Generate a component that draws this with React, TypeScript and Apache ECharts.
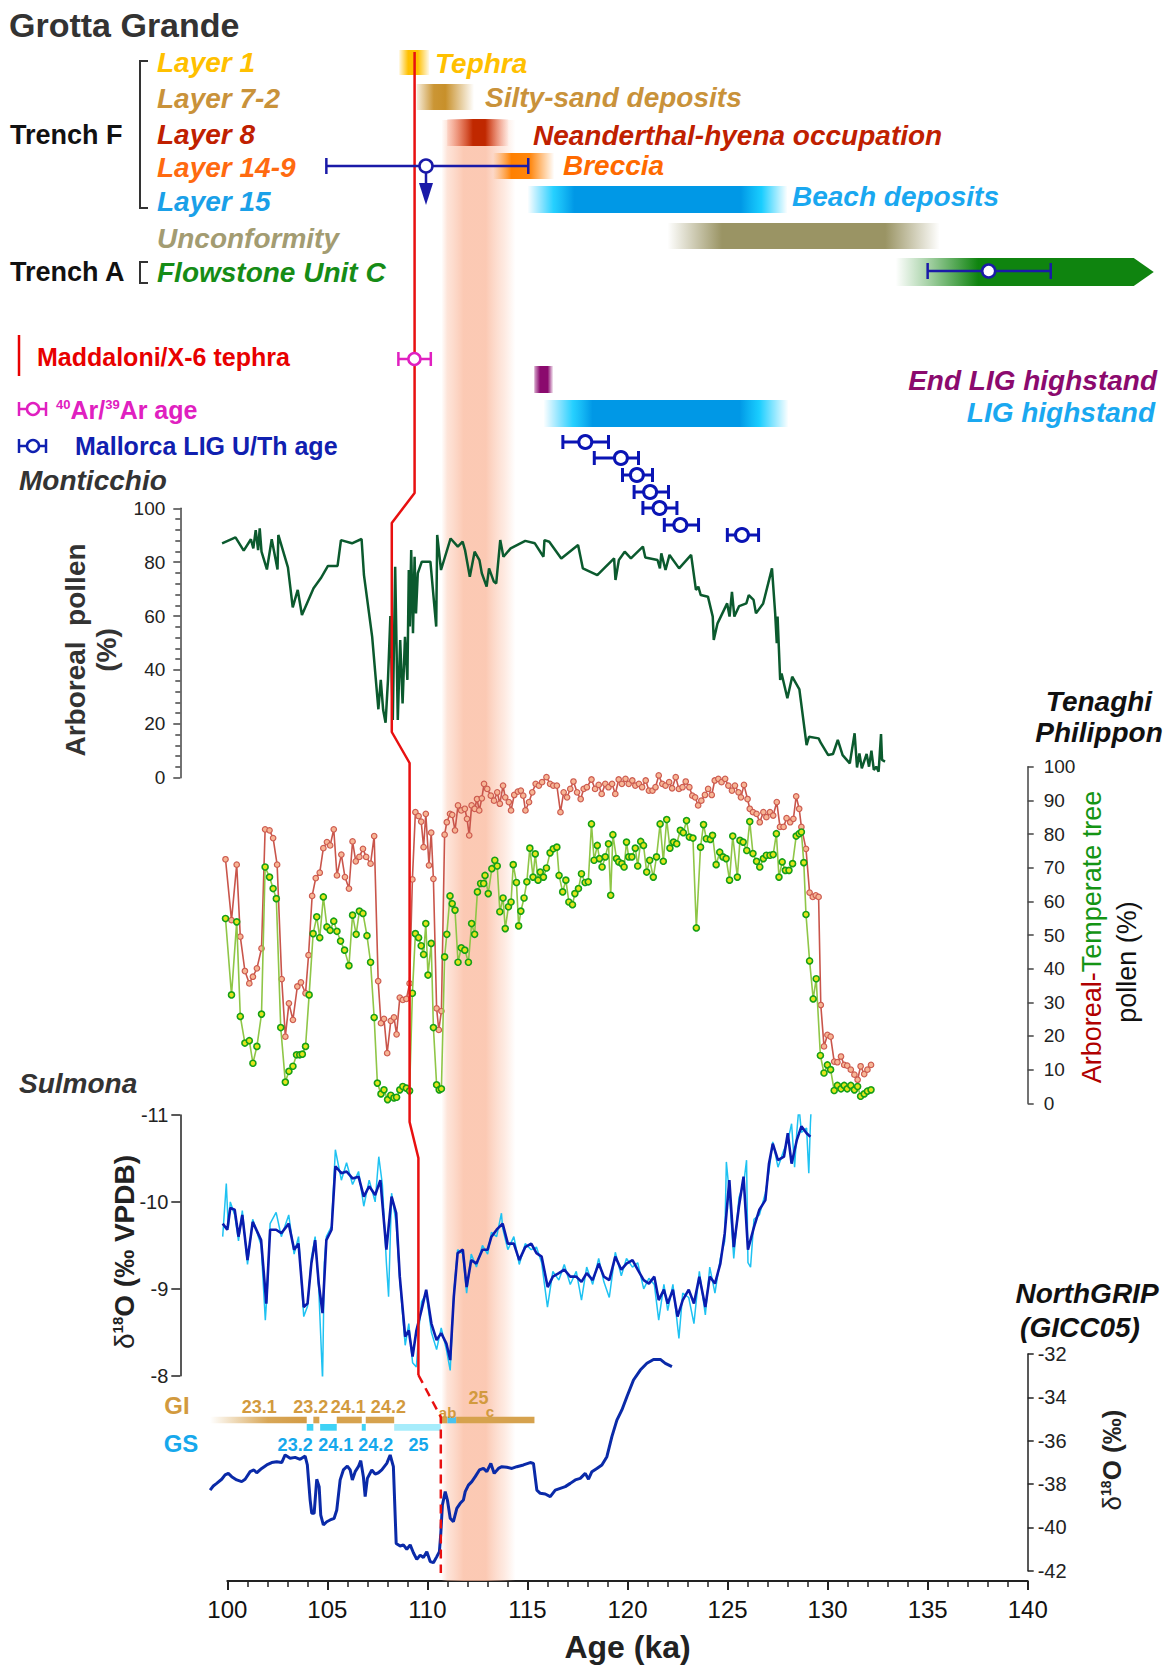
import React, { useEffect, useRef } from "react";
import * as echarts from "echarts";

// ---------------- DATA ----------------
const AGE_TICKS = [100, 105, 110, 115, 120, 125, 130, 135, 140];
const MONTICCHIO_TICKS = [0, 20, 40, 60, 80, 100];
const TENAGHI_TICKS = [0, 10, 20, 30, 40, 50, 60, 70, 80, 90, 100];
const SULMONA_TICKS = [-11, -10, -9, -8];
const NGRIP_TICKS = [-42, -40, -38, -36, -34, -32];

// Monticchio arboreal pollen (%) [age ka, value]
const MONTICCHIO_AP = [
  [99.74, 87.0], [100.41, 89.2], [100.82, 84.3], [101.18, 88.5], [101.3, 85.1], [101.42, 91.9], [101.54, 84.5], [101.62, 92.6],
  [101.71, 83.9], [101.98, 77.3], [102.22, 88.5], [102.51, 77.3], [102.55, 90.1], [103.03, 78.1], [103.27, 63.2], [103.52, 69.7],
  [103.73, 60.4], [104.31, 70.3], [104.67, 74.0], [105.03, 78.6], [105.51, 78.6], [105.68, 88.2], [106.23, 87.0], [106.71, 88.6],
  [106.83, 75.2], [107.24, 52.3], [107.55, 25.4], [107.67, 36.3], [107.79, 25.1], [107.91, 20.4], [108.03, 36.3], [108.15, 60.0],
  [108.27, 21.4], [108.39, 78.3], [108.52, 21.4], [108.64, 51.1], [108.76, 27.6], [108.88, 52.3], [109.0, 36.3], [109.07, 77.1],
  [109.12, 56.1], [109.19, 84.5], [109.28, 53.6], [109.36, 82.0], [109.43, 61.0], [109.52, 75.9], [109.72, 80.2], [110.15, 80.2],
  [110.44, 56.1], [110.49, 90.1], [110.68, 77.1], [111.16, 88.8], [111.52, 85.8], [111.76, 87.6], [111.88, 84.5], [112.12, 74.6],
  [112.36, 83.9], [112.6, 80.8], [112.72, 75.9], [112.96, 70.9], [113.08, 77.7], [113.32, 72.8], [113.44, 72.1], [113.64, 88.2],
  [113.8, 82.0], [114.16, 85.1], [114.89, 87.9], [115.37, 87.0], [115.8, 82.0], [115.85, 88.2], [116.09, 87.6], [116.69, 81.4],
  [117.53, 86.4], [117.77, 77.7], [118.49, 75.2], [119.33, 81.4], [119.4, 73.4], [119.57, 80.8], [119.86, 83.9], [120.17, 81.4],
  [120.77, 85.8], [120.89, 81.7], [121.5, 80.8], [121.62, 77.7], [121.69, 83.3], [121.9, 77.1], [122.1, 82.7], [122.58, 77.7],
  [123.18, 82.7], [123.42, 69.7], [123.54, 70.9], [123.66, 67.8], [124.02, 67.2], [124.26, 59.8], [124.31, 51.1], [124.5, 57.3],
  [124.74, 61.0], [124.98, 64.7], [125.1, 59.8], [125.22, 69.0], [125.34, 59.8], [125.58, 63.7], [125.94, 64.7], [126.06, 67.8],
  [126.3, 66.0], [126.42, 61.0], [126.78, 64.7], [127.22, 77.7], [127.38, 61.0], [127.46, 49.9], [127.5, 59.8], [127.63, 36.3],
  [127.7, 38.7], [127.99, 29.5], [128.23, 37.5], [128.59, 32.8], [128.95, 12.1], [129.07, 15.2], [129.55, 14.6], [129.67, 12.8],
  [130.03, 8.4], [130.27, 8.8], [130.51, 14.0], [130.75, 8.4], [131.11, 5.3], [131.35, 16.5], [131.47, 3.8], [131.59, 9.0],
  [131.71, 3.5], [131.95, 8.8], [132.07, 4.1], [132.19, 10.0], [132.31, 2.9], [132.43, 4.1], [132.55, 2.2], [132.67, 16.2],
  [132.72, 6.6], [132.87, 6.0],
];

// Tenaghi Philippon arboreal pollen (%)
const TENAGHI_AP = [
  [99.91, 72.5], [100.21, 54.4], [100.47, 70.9], [100.65, 49.5], [100.88, 39.3], [101.1, 35.6], [101.28, 37.6], [101.48, 40.1],
  [101.71, 46.0], [101.89, 81.4], [102.11, 81.1], [102.29, 78.8], [102.49, 70.9], [102.72, 36.9], [102.9, 19.8], [103.08, 29.7],
  [103.28, 24.8], [103.5, 34.7], [103.68, 35.9], [103.91, 32.7], [104.06, 44.0], [104.24, 61.6], [104.42, 66.9], [104.62, 68.5],
  [104.8, 75.8], [104.98, 77.6], [105.14, 76.6], [105.32, 81.4], [105.48, 67.7], [105.7, 73.9], [105.88, 67.2], [106.08, 63.8],
  [106.26, 77.8], [106.42, 71.9], [106.6, 73.2], [106.78, 75.6], [106.94, 73.2], [107.16, 71.2], [107.34, 79.4], [107.54, 36.3],
  [107.68, 23.8], [107.83, 25.1], [107.99, 14.9], [108.17, 24.5], [108.33, 25.5], [108.46, 20.5], [108.62, 31.4], [108.77, 30.7],
  [108.95, 31.0], [109.11, 35.6], [109.25, 66.5], [109.4, 86.5], [109.56, 85.3], [109.69, 83.7], [109.81, 76.1], [109.92, 86.0],
  [110.08, 70.7], [110.19, 80.4], [110.3, 66.7], [110.46, 28.2], [110.57, 21.8], [110.7, 27.4], [110.86, 79.8], [110.97, 83.5],
  [111.13, 86.0], [111.24, 85.7], [111.38, 81.1], [111.53, 88.5], [111.69, 87.0], [111.87, 87.5], [111.98, 84.5], [112.09, 79.6],
  [112.21, 88.5], [112.36, 87.5], [112.48, 90.4], [112.59, 87.0], [112.72, 90.6], [112.83, 94.9], [112.99, 93.4], [113.17, 91.4],
  [113.33, 89.9], [113.49, 92.4], [113.62, 89.0], [113.78, 94.4], [113.89, 90.9], [114.07, 89.5], [114.18, 87.0], [114.34, 91.6],
  [114.52, 92.6], [114.67, 92.9], [114.79, 91.4], [114.9, 87.0], [115.08, 89.5], [115.24, 92.4], [115.41, 94.9], [115.57, 94.4],
  [115.73, 95.4], [115.95, 96.9], [116.13, 94.9], [116.29, 94.4], [116.47, 94.4], [116.65, 86.5], [116.81, 92.4], [116.98, 90.9],
  [117.14, 93.4], [117.3, 95.6], [117.48, 92.4], [117.66, 90.4], [117.81, 93.4], [117.97, 93.9], [118.2, 96.2], [118.38, 93.4],
  [118.56, 94.6], [118.71, 91.9], [118.89, 94.9], [119.05, 93.9], [119.23, 94.9], [119.39, 91.9], [119.56, 96.2], [119.72, 94.9],
  [119.9, 96.4], [120.06, 94.9], [120.24, 95.9], [120.39, 94.4], [120.57, 94.9], [120.73, 93.9], [120.91, 95.9], [121.07, 92.9],
  [121.25, 92.9], [121.4, 93.9], [121.56, 97.4], [121.74, 94.9], [121.9, 94.4], [122.08, 95.4], [122.23, 93.6], [122.41, 96.9],
  [122.57, 93.4], [122.75, 93.9], [122.91, 95.6], [123.09, 93.9], [123.24, 91.4], [123.38, 90.9], [123.53, 88.5], [123.69, 89.9],
  [123.87, 91.6], [124.03, 93.4], [124.21, 91.6], [124.36, 95.9], [124.54, 96.4], [124.7, 95.4], [124.88, 96.4], [125.04, 94.4],
  [125.22, 92.9], [125.37, 94.4], [125.55, 92.4], [125.67, 90.9], [125.82, 94.6], [126.0, 90.4], [126.11, 87.5], [126.27, 86.5],
  [126.45, 86.0], [126.61, 83.5], [126.79, 86.5], [126.94, 85.0], [127.12, 86.5], [127.28, 85.5], [127.46, 89.5], [127.62, 82.1],
  [127.8, 82.1], [127.95, 84.7], [128.13, 83.5], [128.29, 84.5], [128.43, 91.2], [128.58, 87.5], [128.69, 82.1], [128.92, 75.6],
  [129.1, 62.6], [129.26, 61.3], [129.41, 61.8], [129.55, 61.3], [129.66, 29.2], [129.82, 16.9], [129.99, 20.3], [130.15, 19.8],
  [130.33, 12.4], [130.49, 12.2], [130.67, 13.9], [130.83, 11.4], [130.98, 11.2], [131.16, 10.0], [131.34, 8.5], [131.5, 7.0],
  [131.65, 11.0], [131.83, 8.7], [131.99, 10.0], [132.17, 11.4],
];

// Tenaghi Philippon temperate tree pollen (%)
const TENAGHI_TT = [
  [99.91, 54.9], [100.21, 32.2], [100.47, 53.9], [100.65, 25.8], [100.88, 17.9], [101.1, 18.6], [101.28, 11.9], [101.48, 16.9],
  [101.71, 26.5], [101.89, 70.2], [102.11, 67.2], [102.29, 63.8], [102.45, 60.8], [102.67, 22.5], [102.9, 6.3], [103.08, 9.5],
  [103.28, 11.0], [103.46, 14.4], [103.62, 14.4], [103.75, 14.6], [103.91, 16.9], [104.09, 32.2], [104.29, 50.4], [104.47, 55.4],
  [104.62, 49.2], [104.8, 61.3], [104.98, 52.4], [105.14, 51.4], [105.32, 54.1], [105.48, 51.1], [105.66, 48.2], [105.86, 45.5],
  [106.08, 40.9], [106.26, 55.9], [106.44, 50.2], [106.6, 57.1], [106.78, 56.4], [106.98, 49.8], [107.16, 41.9], [107.34, 25.5],
  [107.5, 6.0], [107.68, 2.8], [107.83, 4.0], [108.01, 1.1], [108.17, 2.4], [108.33, 1.6], [108.46, 1.8], [108.62, 4.0],
  [108.77, 5.0], [108.95, 4.5], [109.11, 3.7], [109.25, 32.7], [109.4, 50.4], [109.56, 49.2], [109.69, 46.8], [109.81, 44.2],
  [109.92, 53.4], [110.03, 38.1], [110.19, 47.5], [110.3, 22.5], [110.46, 5.5], [110.59, 4.0], [110.7, 4.3], [110.86, 43.5],
  [110.97, 50.2], [111.13, 61.6], [111.24, 59.3], [111.38, 57.4], [111.53, 41.9], [111.69, 46.2], [111.87, 45.5], [112.05, 41.9],
  [112.21, 53.4], [112.36, 50.2], [112.5, 62.8], [112.66, 65.3], [112.81, 65.3], [112.88, 67.7], [113.04, 62.3], [113.22, 69.7],
  [113.37, 72.2], [113.49, 70.5], [113.62, 56.9], [113.78, 61.0], [113.89, 51.9], [114.05, 58.4], [114.18, 59.8], [114.29, 70.9],
  [114.45, 65.6], [114.56, 52.7], [114.67, 57.1], [114.83, 61.0], [114.97, 65.8], [115.12, 75.8], [115.28, 67.2], [115.39, 74.1],
  [115.53, 66.3], [115.64, 68.7], [115.8, 67.2], [115.95, 69.9], [116.13, 74.4], [116.29, 75.6], [116.47, 76.1], [116.58, 67.7],
  [116.76, 62.8], [116.92, 66.3], [117.07, 59.8], [117.25, 59.0], [117.37, 62.3], [117.55, 63.8], [117.7, 68.2], [117.88, 65.6],
  [118.04, 65.8], [118.2, 83.0], [118.33, 72.2], [118.49, 76.6], [118.6, 72.7], [118.73, 70.2], [118.89, 73.2], [119.05, 77.1],
  [119.16, 61.8], [119.27, 79.8], [119.45, 72.7], [119.56, 71.7], [119.72, 71.2], [119.83, 70.2], [119.95, 77.6], [120.06, 73.2],
  [120.22, 73.2], [120.39, 75.8], [120.51, 70.5], [120.66, 77.8], [120.8, 76.6], [120.96, 68.7], [121.11, 72.2], [121.29, 67.2],
  [121.45, 73.2], [121.63, 83.0], [121.79, 71.9], [121.96, 84.3], [122.12, 75.8], [122.3, 77.6], [122.46, 77.1], [122.64, 81.1],
  [122.79, 80.4], [122.95, 84.0], [123.09, 79.1], [123.27, 78.8], [123.44, 52.1], [123.65, 76.1], [123.8, 82.8], [123.94, 78.6],
  [124.14, 78.4], [124.25, 79.6], [124.43, 70.9], [124.61, 74.6], [124.77, 73.2], [124.93, 72.7], [125.1, 66.3], [125.26, 79.4],
  [125.49, 67.2], [125.62, 78.1], [125.78, 77.6], [125.96, 75.1], [126.11, 83.7], [126.27, 74.2], [126.45, 71.9], [126.61, 70.2],
  [126.79, 72.7], [126.94, 73.7], [127.12, 73.7], [127.28, 73.9], [127.44, 80.1], [127.57, 67.2], [127.73, 71.7], [127.89, 69.2],
  [128.07, 69.2], [128.25, 71.2], [128.43, 79.4], [128.58, 80.1], [128.69, 80.6], [128.81, 71.5], [128.92, 56.1], [129.1, 42.3],
  [129.28, 31.0], [129.43, 37.0], [129.64, 14.2], [129.82, 9.0], [129.99, 11.4], [130.15, 10.0], [130.33, 3.8], [130.49, 5.3],
  [130.67, 4.3], [130.83, 5.3], [130.98, 4.3], [131.16, 5.3], [131.34, 4.0], [131.5, 5.0], [131.65, 2.1], [131.83, 2.8],
  [131.99, 3.6], [132.17, 4.0],
];

// Sulmona d18O (permil VPDB), smoothed record
const SULMONA_SMOOTH = [
  [99.77, -9.75], [100.0, -9.68], [100.15, -9.93], [100.37, -9.91], [100.56, -9.6], [100.75, -9.85], [101.01, -9.33], [101.27, -9.77],
  [101.69, -9.56], [101.95, -8.83], [102.14, -9.68], [102.44, -9.68], [102.7, -9.64], [103.07, -9.75], [103.34, -9.45], [103.56, -9.52],
  [103.82, -8.79], [104.01, -8.83], [104.2, -9.29], [104.39, -9.56], [104.57, -9.06], [104.76, -8.72], [104.95, -9.56], [105.21, -9.68],
  [105.4, -10.41], [105.7, -10.33], [105.96, -10.35], [106.26, -10.27], [106.56, -10.29], [106.82, -10.06], [107.09, -10.18], [107.39, -10.08],
  [107.65, -10.25], [107.95, -9.45], [108.21, -10.06], [108.44, -9.87], [108.62, -9.14], [108.89, -8.45], [109.07, -8.52], [109.26, -8.22],
  [109.45, -8.52], [109.71, -8.76], [109.94, -8.99], [110.2, -8.6], [110.46, -8.41], [110.69, -8.49], [110.95, -8.37], [111.14, -8.18],
  [111.32, -8.91], [111.51, -9.41], [111.77, -9.45], [111.96, -9.02], [112.19, -9.33], [112.45, -9.29], [112.75, -9.45], [113.01, -9.45],
  [113.2, -9.6], [113.46, -9.68], [113.76, -9.75], [114.02, -9.52], [114.32, -9.52], [114.59, -9.33], [114.89, -9.48], [115.19, -9.52],
  [115.45, -9.41], [115.71, -9.37], [116.01, -9.02], [116.27, -9.14], [116.57, -9.18], [116.84, -9.22], [117.14, -9.14], [117.44, -9.14],
  [117.7, -9.08], [117.96, -9.18], [118.26, -9.1], [118.56, -9.29], [118.82, -9.14], [119.09, -9.1], [119.39, -9.37], [119.69, -9.22],
  [119.95, -9.29], [120.25, -9.33], [120.51, -9.22], [120.81, -9.1], [121.07, -9.06], [121.34, -9.14], [121.56, -8.87], [121.82, -8.99],
  [122.01, -8.83], [122.27, -8.99], [122.5, -8.68], [122.76, -8.87], [123.06, -8.99], [123.32, -8.83], [123.59, -9.14], [123.89, -8.79],
  [124.11, -9.14], [124.37, -9.06], [124.64, -9.29], [124.86, -9.64], [125.09, -10.25], [125.31, -9.48], [125.57, -9.95], [125.8, -10.29],
  [126.02, -9.45], [126.32, -9.71], [126.59, -9.91], [126.89, -10.02], [127.07, -10.44], [127.26, -10.67], [127.52, -10.48], [127.82, -10.52],
  [128.01, -10.79], [128.2, -10.44], [128.46, -10.71], [128.69, -10.87], [128.95, -10.79], [129.14, -10.75],
];

// Sulmona d18O raw record (light blue)
const SULMONA_RAW = [
  [99.77, -9.6], [99.95, -10.21], [100.05, -9.7], [100.15, -10.0], [100.37, -9.85], [100.56, -9.55], [100.75, -9.9], [101.01, -9.28],
  [101.27, -9.8], [101.69, -9.5], [101.9, -8.64], [102.0, -9.0], [102.14, -9.75], [102.44, -9.88], [102.7, -9.6], [103.07, -9.85],
  [103.34, -9.4], [103.56, -9.6], [103.82, -8.68], [104.01, -8.8], [104.2, -9.35], [104.39, -9.6], [104.57, -9.0], [104.76, -7.95],
  [104.85, -9.3], [104.95, -9.6], [105.21, -9.72], [105.4, -10.6], [105.7, -10.25], [105.96, -10.45], [106.26, -10.2], [106.56, -10.35],
  [106.82, -9.95], [107.09, -10.25], [107.39, -10.0], [107.57, -10.52], [107.75, -10.2], [107.95, -9.3], [108.06, -8.91], [108.21, -10.1],
  [108.44, -9.75], [108.62, -9.1], [108.89, -8.35], [109.07, -8.6], [109.26, -8.15], [109.45, -8.1], [109.6, -8.6], [109.71, -8.85],
  [109.94, -8.95], [110.2, -8.5], [110.46, -8.3], [110.69, -8.55], [110.95, -8.3], [111.14, -8.06], [111.32, -8.95], [111.51, -9.45],
  [111.77, -9.4], [111.96, -8.95], [112.19, -9.4], [112.45, -9.25], [112.75, -9.5], [113.01, -9.4], [113.2, -9.65], [113.46, -9.6],
  [113.7, -9.87], [113.76, -9.7], [114.02, -9.45], [114.32, -9.6], [114.59, -9.28], [114.89, -9.52], [115.19, -9.45], [115.45, -9.48],
  [115.71, -9.3], [116.0, -8.79], [116.27, -9.2], [116.57, -9.1], [116.84, -9.28], [117.14, -9.05], [117.44, -9.2], [117.7, -8.87],
  [117.96, -9.25], [118.26, -9.05], [118.56, -9.35], [118.82, -9.08], [119.09, -8.9], [119.39, -9.42], [119.69, -9.15], [119.95, -9.35],
  [120.25, -9.25], [120.51, -9.3], [120.81, -9.0], [121.07, -9.12], [121.34, -9.05], [121.56, -8.64], [121.82, -9.05], [122.01, -8.75],
  [122.27, -9.05], [122.57, -8.43], [122.76, -8.95], [123.06, -8.9], [123.32, -8.6], [123.59, -9.2], [123.89, -8.7], [124.11, -9.25],
  [124.37, -8.95], [124.64, -9.35], [124.86, -9.55], [124.94, -10.46], [125.09, -10.1], [125.31, -9.35], [125.57, -10.05], [125.8, -10.2],
  [125.95, -10.48], [126.02, -9.3], [126.15, -9.25], [126.32, -9.8], [126.59, -9.85], [126.89, -10.1], [127.07, -10.35], [127.26, -10.69],
  [127.52, -10.4], [127.82, -10.6], [128.01, -10.7], [128.2, -10.9], [128.35, -10.4], [128.46, -10.8], [128.57, -11.1], [128.69, -10.8],
  [128.95, -10.85], [129.06, -10.33], [129.14, -10.9], [129.21, -11.21],
];

// NorthGRIP d18O (permil), GICC05
const NGRIP_D18O = [
  [99.14, -38.28], [99.3, -38.09], [99.47, -37.97], [99.72, -37.78], [99.89, -37.58], [100.05, -37.51], [100.22, -37.66], [100.47, -37.81],
  [100.72, -37.89], [100.89, -37.78], [101.14, -37.43], [101.33, -37.35], [101.47, -37.48], [101.72, -37.28], [101.97, -37.12], [102.22, -37.01],
  [102.47, -36.97], [102.72, -37.01], [102.89, -36.66], [103.14, -36.81], [103.39, -36.77], [103.64, -36.86], [103.89, -36.71], [104.0, -37.12],
  [104.14, -38.74], [104.22, -39.35], [104.34, -39.35], [104.47, -37.78], [104.59, -38.12], [104.67, -39.43], [104.8, -39.89], [104.97, -39.74],
  [105.14, -39.66], [105.34, -39.58], [105.47, -39.2], [105.64, -37.81], [105.8, -37.35], [106.0, -37.17], [106.14, -37.35], [106.25, -37.81],
  [106.39, -37.43], [106.55, -37.2], [106.67, -36.92], [106.8, -37.66], [106.89, -38.58], [107.0, -37.74], [107.22, -37.35], [107.39, -37.54],
  [107.55, -37.48], [107.72, -37.35], [107.97, -37.05], [108.14, -36.66], [108.3, -37.2], [108.44, -40.74], [108.64, -40.86], [108.8, -40.81],
  [108.97, -41.01], [109.14, -40.81], [109.3, -41.17], [109.47, -41.48], [109.64, -41.28], [109.8, -41.39], [109.97, -41.12], [110.14, -41.58],
  [110.3, -41.63], [110.47, -41.35], [110.6, -41.12], [110.67, -40.28], [110.75, -38.97], [110.89, -38.35], [111.0, -38.74], [111.14, -39.58],
  [111.3, -39.74], [111.47, -39.12], [111.64, -38.89], [111.8, -38.74], [111.89, -38.35], [112.05, -38.05], [112.22, -37.89], [112.39, -37.66],
  [112.6, -37.35], [112.8, -37.28], [112.97, -37.43], [113.17, -37.05], [113.34, -37.51], [113.55, -37.28], [113.72, -37.2], [113.97, -37.23],
  [114.22, -37.28], [114.47, -37.2], [114.8, -37.12], [115.14, -37.01], [115.3, -37.05], [115.47, -38.28], [115.64, -38.43], [115.89, -38.46],
  [116.14, -38.58], [116.39, -38.28], [116.64, -38.2], [116.89, -38.12], [117.14, -37.97], [117.39, -37.81], [117.64, -37.74], [117.89, -37.51],
  [118.05, -37.78], [118.22, -37.43], [118.47, -37.28], [118.72, -37.12], [118.97, -36.74], [119.22, -35.81], [119.47, -35.05], [119.72, -34.58],
  [119.97, -33.97], [120.3, -33.2], [120.64, -32.74], [120.97, -32.43], [121.3, -32.25], [121.64, -32.25], [121.89, -32.43], [122.22, -32.58],
];

// Grotta Grande deposits (age ranges, ka)
const GG_UNITS = [
  { key: "tephra", start: 108.59, end: 110.09 },
  { key: "silty", start: 109.46, end: 112.33 },
  { key: "l8", start: 110.99, end: 114.05 },
  { key: "breccia", start: 113.28, end: 116.34 },
  { key: "beach", start: 115.0, end: 128.0 },
  { key: "unconf", start: 122.0, end: 135.6 },
  { key: "endLig", start: 115.34, end: 116.3 },
  { key: "lig", start: 115.8, end: 128.05 },
];
const FLOWSTONE = [133.4, 145.3, 146.3]; // start, end of body, arrow tip

// Ages with errors [age, low, high]
const AR_AGE = [109.35, 108.55, 110.17];
const GG_UTH_AGE = [109.93, 104.95, 115.04];
const FLOW_UTH_AGE = [138.05, 135.0, 141.15];
const MALLORCA_AGES = [
  [117.89, 116.77, 119.05], [119.67, 118.34, 120.55], [120.47, 119.75, 121.25], [121.13, 120.33, 122.05],
  [121.6, 120.77, 122.47], [122.64, 121.84, 123.55], [125.72, 124.99, 126.55],
];

// Greenland interstadials / stadials [start, end]
const GI_EVENTS = [
  { s: 99.14, e: 103.97, k: "fade" }, { s: 104.3, e: 104.6, k: "gi" }, { s: 105.47, e: 106.72, k: "gi" },
  { s: 106.92, e: 108.34, k: "gi" }, { s: 110.67, e: 111.0, k: "gi" }, { s: 111.0, e: 111.44, k: "gsb" },
  { s: 111.44, e: 115.35, k: "gi" },
];
const GS_EVENTS = [
  { s: 103.97, e: 104.3, k: "gs" }, { s: 104.64, e: 105.47, k: "gs" }, { s: 106.72, e: 106.92, k: "gs" },
  { s: 108.34, e: 110.67, k: "gsl" },
];
const GI_LABELS = [["23.1", 101.6], ["23.2", 104.17], ["24.1", 106.05], ["24.2", 108.05], ["25", 112.55]];
const GI_SUB_LABELS = [["a", 110.78], ["b", 111.22], ["c", 113.13]];
const GS_LABELS = [["23.2", 103.39], ["24.1", 105.42], ["24.2", 107.42], ["25", 109.55]];

// Maddaloni/X-6 tephra tie line ages
const TEPHRA_TIE_AGES = [109.36, 109.36, 108.22, 108.22, 109.11, 109.11, 109.55, 109.55];
const TEPHRA_NGRIP_AGES = [109.55, 110.67, 110.67];
const SHADED_BAND = [110.7, 114.4];

// ---------------- LAYOUT ----------------
const FONT = "Liberation Sans, Arial, Helvetica, sans-serif";
const GL = 227.3;
const GW = 800.4;
const PX_PER_KA = GW / (AGE_TICKS[AGE_TICKS.length - 1] - AGE_TICKS[0]);
const DATA_X_MIN = 98; // hidden data axes extend left so that records starting before 100 ka are drawn
const EXT = (AGE_TICKS[0] - DATA_X_MIN) * PX_PER_KA;
const Y_AXIS_GAP = 47; // distance of the left value axes from the 100 ka position
const TIE_Y = [52, 493, 523, 732, 763, 1122, 1158, 1375];
const TIE_Y_DASH = [1375, 1417, 1573];
const ROWS: any = {
  tephra: [50, 75], silty: [84, 110], l8: [119, 146], breccia: [153, 179], beach: [186, 213],
  unconf: [223, 249], flow: [258, 286], endLig: [366, 393], lig: [400, 427],
};
const ERR_Y = { ar: 359, gg: 166, flow: 271, mallorca: [442, 458, 475, 492, 508, 525, 535] };
const GI_ROW = [1416.7, 1423.3];
const GS_ROW = [1424, 1430.7];

const BAR_STOPS: any = {
  tephra: [[0, "rgba(255,192,0,0.12)"], [0.3, "rgba(255,192,0,1)"], [0.62, "rgba(255,192,0,1)"], [1, "rgba(255,192,0,0.08)"]],
  silty: [[0, "rgba(200,144,42,0.15)"], [0.3, "rgba(200,144,42,0.95)"], [0.5, "rgba(200,144,42,1)"], [1, "rgba(200,144,42,0)"]],
  l8: [[0, "rgba(240,110,80,0.15)"], [0.42, "rgba(192,40,0,1)"], [0.62, "rgba(192,40,0,1)"], [1, "rgba(240,110,80,0.05)"]],
  breccia: [[0, "rgba(255,128,0,0)"], [0.3, "rgba(255,128,0,1)"], [0.6, "rgba(255,128,0,0.95)"], [1, "rgba(255,128,0,0)"]],
  beach: [[0, "rgba(0,190,255,0)"], [0.1, "rgba(0,200,255,0.85)"], [0.18, "#0098e6"], [0.82, "#0098e6"], [0.9, "rgba(0,200,255,0.9)"], [1, "rgba(0,200,255,0)"]],
  unconf: [[0, "rgba(154,148,100,0)"], [0.2, "rgba(154,148,100,1)"], [0.8, "rgba(154,148,100,1)"], [1, "rgba(154,148,100,0)"]],
  endLig: [[0, "rgba(139,10,110,0.35)"], [0.3, "#8b0a6e"], [0.7, "#8b0a6e"], [1, "rgba(139,10,110,0)"]],
  lig: [[0, "rgba(0,190,255,0)"], [0.12, "rgba(0,200,255,0.85)"], [0.2, "#0098e6"], [0.8, "#0098e6"], [0.88, "rgba(0,200,255,0.9)"], [1, "rgba(0,200,255,0)"]],
};
const EVENT_COLORS: any = { gi: "#d6a24e", gs: "#3fd2f5", gsl: "#a6ecfb", gsb: "#49c3ef" };

const grad = (stops: any[]) =>
  new echarts.graphic.LinearGradient(0, 0, 1, 0, stops.map(([offset, color]) => ({ offset, color })));

const T = (x: number, y: number, text: string, fill: string, size: number, o: any = {}) => ({
  type: "text",
  x,
  y,
  z: 50,
  rotation: o.rot || 0,
  silent: true,
  style: {
    text,
    fill,
    fontFamily: FONT,
    fontSize: size,
    fontWeight: o.w || "bold",
    fontStyle: o.i ? "italic" : "normal",
    textAlign: o.a || "left",
    textVerticalAlign: "middle",
    rich: o.rich,
  },
});

function errGroup(api: any, color: string, lw: number, capH: number, r: number, arrow: boolean) {
  const c = api.coord([api.value(0), api.value(3)]);
  const lo = api.coord([api.value(1), api.value(3)]);
  const hi = api.coord([api.value(2), api.value(3)]);
  const y = c[1];
  const children: any[] = [
    { type: "line", shape: { x1: lo[0], y1: y, x2: hi[0], y2: y }, style: { stroke: color, lineWidth: lw } },
    { type: "line", shape: { x1: lo[0], y1: y - capH / 2, x2: lo[0], y2: y + capH / 2 }, style: { stroke: color, lineWidth: lw } },
    { type: "line", shape: { x1: hi[0], y1: y - capH / 2, x2: hi[0], y2: y + capH / 2 }, style: { stroke: color, lineWidth: lw } },
  ];
  if (arrow) {
    children.push({ type: "line", shape: { x1: c[0], y1: y + r, x2: c[0], y2: y + 19 }, style: { stroke: color, lineWidth: lw } });
    children.push({ type: "polygon", shape: { points: [[c[0] - 7, y + 17], [c[0] + 7, y + 17], [c[0], y + 39]] }, style: { fill: color } });
  }
  children.push({ type: "circle", shape: { cx: c[0], cy: y, r }, style: { fill: "#fff", stroke: color, lineWidth: lw } });
  return { type: "group", children };
}

function buildOption(): any {
  const overlay = { coordinateSystem: "cartesian2d", xAxisIndex: 4, yAxisIndex: 4, silent: true, clip: false };
  const dataX = (g: number) => ({ gridIndex: g, type: "value", min: DATA_X_MIN, max: AGE_TICKS[AGE_TICKS.length - 1], show: false });

  const leftAxisBase = {
    type: "value",
    position: "left",
    offset: Y_AXIS_GAP - EXT,
    splitLine: { show: false },
    axisLine: { show: true, onZero: false, lineStyle: { color: "#444", width: 1.5 } },
    axisTick: { show: true, length: 7, lineStyle: { color: "#444", width: 1.5 } },
    axisLabel: { fontSize: 19, color: "#222", fontFamily: FONT, margin: 15 },
  };
  const rightAxisBase = {
    type: "value",
    position: "right",
    splitLine: { show: false },
    axisLine: { show: true, onZero: false, lineStyle: { color: "#444", width: 1.5 } },
    axisTick: { show: true, length: 6, lineStyle: { color: "#444", width: 1.5 } },
    axisLabel: { fontSize: 19, color: "#222", fontFamily: FONT, margin: 16 },
  };

  const errData = [
    [...AR_AGE, ERR_Y.ar, 0],
    [...GG_UTH_AGE, ERR_Y.gg, 1],
    [...FLOW_UTH_AGE, ERR_Y.flow, 2],
    ...MALLORCA_AGES.map((m, i) => [...m, ERR_Y.mallorca[i], 3]),
  ];
  const errStyles = [
    ["#e020c0", 2.5, 14, 6, false],
    ["#1a1aa8", 2.5, 16, 6.5, true],
    ["#1a1aa8", 2.5, 16, 6.5, false],
    ["#0a14b4", 3, 14, 6.5, false],
  ];

  const eventList = [
    ...GI_EVENTS.map((e) => ({ ...e, row: GI_ROW })),
    ...GS_EVENTS.map((e) => ({ ...e, row: GS_ROW })),
  ];
  const labelList = [
    ...GI_LABELS.map(([t, a]) => ({ t, a, y: t === "25" ? 1398 : 1406.5, c: "#d29a3e", s: 18 })),
    ...GI_SUB_LABELS.map(([t, a]) => ({ t, a, y: t === "c" ? 1411 : 1412, c: "#d29a3e", s: 15 })),
    ...GS_LABELS.map(([t, a]) => ({ t, a, y: 1445, c: "#16a8ec", s: 18 })),
  ];

  return {
    animation: false,
    textStyle: { fontFamily: FONT },
    grid: [
      { left: GL - EXT, width: GW + EXT, top: 508.3, height: 269.4 },
      { left: GL - EXT, width: GW + EXT, top: 766.7, height: 336.6 },
      { left: GL - EXT, width: GW + EXT, top: 1115, height: 260.7 },
      { left: GL, width: GW, top: 1354, height: 216.7 },
      { left: GL, width: GW, top: 0, height: 1665 },
      { left: GL - EXT, width: GW + EXT, top: 1354, height: 216.7 },
    ],
    xAxis: [
      dataX(0),
      dataX(1),
      dataX(2),
      {
        gridIndex: 3,
        type: "value",
        min: AGE_TICKS[0],
        max: AGE_TICKS[AGE_TICKS.length - 1],
        interval: 5,
        position: "bottom",
        offset: 10.3,
        splitLine: { show: false },
        axisLine: { show: true, onZero: false, lineStyle: { color: "#222", width: 2 } },
        axisTick: { show: true, length: 9, lineStyle: { color: "#222", width: 2 } },
        minorTick: { show: true, splitNumber: 5, length: 6, lineStyle: { color: "#222", width: 1.5 } },
        axisLabel: { fontSize: 24, color: "#111", fontFamily: FONT, margin: 16 },
        name: "Age (ka)",
        nameLocation: "middle",
        nameGap: 50,
        nameTextStyle: { fontSize: 32, fontWeight: "bold", color: "#222", fontFamily: FONT },
      },
      { gridIndex: 4, type: "value", min: AGE_TICKS[0], max: AGE_TICKS[AGE_TICKS.length - 1], show: false },
      dataX(5),
    ],
    yAxis: [
      {
        ...leftAxisBase,
        gridIndex: 0,
        min: MONTICCHIO_TICKS[0],
        max: MONTICCHIO_TICKS[MONTICCHIO_TICKS.length - 1],
        interval: 20,
        minorTick: { show: true, splitNumber: 5, length: 5, lineStyle: { color: "#444", width: 1.5 } },
      },
      {
        ...rightAxisBase,
        gridIndex: 1,
        min: TENAGHI_TICKS[0],
        max: TENAGHI_TICKS[TENAGHI_TICKS.length - 1],
        interval: 10,
      },
      {
        ...leftAxisBase,
        gridIndex: 2,
        min: SULMONA_TICKS[0],
        max: SULMONA_TICKS[SULMONA_TICKS.length - 1],
        interval: 1,
        inverse: true,
        axisTick: { show: true, length: 9, lineStyle: { color: "#222", width: 1.5 } },
        axisLine: { show: true, onZero: false, lineStyle: { color: "#222", width: 1.5 } },
        axisLabel: { fontSize: 20, color: "#222", fontFamily: FONT, margin: 12 },
      },
      {
        ...rightAxisBase,
        gridIndex: 3,
        min: NGRIP_TICKS[0],
        max: NGRIP_TICKS[NGRIP_TICKS.length - 1],
        interval: 2,
        axisLine: { show: true, onZero: false, lineStyle: { color: "#222", width: 1.5 } },
        axisTick: { show: true, length: 6, lineStyle: { color: "#222", width: 1.5 } },
        axisLabel: { fontSize: 20, color: "#222", fontFamily: FONT, margin: 10 },
      },
      { gridIndex: 4, type: "value", min: 0, max: 1665, inverse: true, show: false },
      { gridIndex: 5, type: "value", min: NGRIP_TICKS[0], max: NGRIP_TICKS[NGRIP_TICKS.length - 1], show: false },
    ],
    series: [
      // shaded band
      {
        ...overlay,
        type: "custom",
        z: 1,
        data: [[SHADED_BAND[0], SHADED_BAND[1], 120, 1581]],
        encode: { x: [0, 1], y: [2, 3] },
        renderItem: (params: any, api: any) => {
          const a = api.coord([api.value(0), api.value(2)]);
          const b = api.coord([api.value(1), api.value(3)]);
          return {
            type: "rect",
            shape: { x: a[0], y: a[1], width: b[0] - a[0], height: b[1] - a[1] },
            style: {
              fill: grad([
                [0, "rgba(252,195,170,0)"],
                [0.08, "rgba(252,195,170,0.45)"],
                [0.3, "rgba(250,180,150,0.72)"],
                [0.6, "rgba(250,180,150,0.72)"],
                [0.85, "rgba(252,195,170,0.35)"],
                [1, "rgba(252,195,170,0)"],
              ]),
            },
          };
        },
      },
      // Grotta Grande units & LIG bars
      {
        ...overlay,
        type: "custom",
        z: 2,
        data: GG_UNITS.map((u) => [u.start, u.end, ROWS[u.key][0], ROWS[u.key][1]]),
        encode: { x: [0, 1], y: [2, 3] },
        renderItem: (params: any, api: any) => {
          const a = api.coord([api.value(0), api.value(2)]);
          const b = api.coord([api.value(1), api.value(3)]);
          const key = GG_UNITS[params.dataIndex].key;
          return {
            type: "rect",
            shape: { x: a[0], y: a[1], width: b[0] - a[0], height: b[1] - a[1] },
            style: { fill: grad(BAR_STOPS[key]) },
          };
        },
      },
      // Flowstone arrow
      {
        ...overlay,
        type: "custom",
        z: 2,
        data: [[FLOWSTONE[0], FLOWSTONE[1], FLOWSTONE[2], ROWS.flow[0], ROWS.flow[1]]],
        encode: { x: [0, 1, 2], y: [3, 4] },
        renderItem: (params: any, api: any) => {
          const a = api.coord([api.value(0), api.value(3)]);
          const b = api.coord([api.value(1), api.value(4)]);
          const t = api.coord([api.value(2), (api.value(3) + api.value(4)) / 2]);
          return {
            type: "polygon",
            shape: { points: [[a[0], a[1]], [b[0], a[1]], [t[0], t[1]], [b[0], b[1]], [a[0], b[1]]] },
            style: {
              fill: grad([
                [0, "rgba(15,132,15,0)"],
                [0.12, "rgba(15,132,15,0.35)"],
                [0.32, "#0f840f"],
                [1, "#0f840f"],
              ]),
            },
          };
        },
      },
      // GI / GS bars
      {
        ...overlay,
        type: "custom",
        z: 3,
        data: eventList.map((e) => [e.s, e.e, e.row[0], e.row[1]]),
        encode: { x: [0, 1], y: [2, 3] },
        renderItem: (params: any, api: any) => {
          const a = api.coord([api.value(0), api.value(2)]);
          const b = api.coord([api.value(1), api.value(3)]);
          const k = eventList[params.dataIndex].k;
          const fill =
            k === "fade"
              ? grad([[0, "rgba(214,162,78,0)"], [0.6, "rgba(214,162,78,0.95)"], [1, "#d39b45"]])
              : EVENT_COLORS[k];
          return { type: "rect", shape: { x: a[0], y: a[1], width: b[0] - a[0], height: b[1] - a[1] }, style: { fill } };
        },
      },
      // GI / GS labels
      {
        ...overlay,
        type: "custom",
        z: 6,
        data: labelList.map((l) => [l.a, l.y]),
        encode: { x: 0, y: 1 },
        renderItem: (params: any, api: any) => {
          const p = api.coord([api.value(0), api.value(1)]);
          const l = labelList[params.dataIndex];
          return {
            type: "text",
            x: p[0],
            y: p[1],
            style: {
              text: l.t,
              fill: l.c,
              fontFamily: FONT,
              fontSize: l.s,
              fontWeight: "bold",
              textAlign: "center",
              textVerticalAlign: "middle",
            },
          };
        },
      },
      // Monticchio
      {
        type: "line",
        xAxisIndex: 0,
        yAxisIndex: 0,
        z: 3,
        data: MONTICCHIO_AP,
        showSymbol: false,
        symbol: "none",
        lineStyle: { color: "#0b5a2e", width: 2.5 },
        silent: true,
      },
      // Tenaghi arboreal
      {
        type: "line",
        xAxisIndex: 1,
        yAxisIndex: 1,
        z: 3,
        data: TENAGHI_AP,
        symbol: "circle",
        symbolSize: 5.5,
        showAllSymbol: true,
        itemStyle: { color: "#f7b595", borderColor: "#cd5c50", borderWidth: 1.2 },
        lineStyle: { color: "#c9554b", width: 1.6 },
        silent: true,
      },
      // Tenaghi temperate
      {
        type: "line",
        xAxisIndex: 1,
        yAxisIndex: 1,
        z: 4,
        data: TENAGHI_TT,
        symbol: "circle",
        symbolSize: 6,
        showAllSymbol: true,
        itemStyle: { color: "#e4e41c", borderColor: "#16a016", borderWidth: 1.6 },
        lineStyle: { color: "#8fc647", width: 1.6 },
        silent: true,
      },
      // Sulmona raw
      {
        type: "line",
        xAxisIndex: 2,
        yAxisIndex: 2,
        z: 3,
        data: SULMONA_RAW,
        symbol: "none",
        lineStyle: { color: "#1ec2f2", width: 1.5 },
        silent: true,
      },
      // Sulmona smoothed
      {
        type: "line",
        xAxisIndex: 2,
        yAxisIndex: 2,
        z: 4,
        data: SULMONA_SMOOTH,
        symbol: "none",
        lineStyle: { color: "#0a1cae", width: 2.6 },
        silent: true,
      },
      // NGRIP
      {
        type: "line",
        xAxisIndex: 5,
        yAxisIndex: 5,
        z: 3,
        data: NGRIP_D18O,
        symbol: "none",
        lineStyle: { color: "#0a2aa8", width: 3 },
        silent: true,
      },
      // Maddaloni/X-6 tie line
      {
        ...overlay,
        type: "line",
        z: 7,
        data: TEPHRA_TIE_AGES.map((a, i) => [a, TIE_Y[i]]),
        symbol: "none",
        lineStyle: { color: "#e81010", width: 2.5 },
      },
      {
        ...overlay,
        type: "line",
        z: 7,
        data: TEPHRA_NGRIP_AGES.map((a, i) => [a, TIE_Y_DASH[i]]),
        symbol: "none",
        lineStyle: { color: "#e81010", width: 2.5, type: [9, 6] },
      },
      // error bars
      {
        ...overlay,
        type: "custom",
        z: 8,
        data: errData,
        encode: { x: [0, 1, 2], y: 3 },
        renderItem: (params: any, api: any) => {
          const st: any = errStyles[api.value(4)];
          return errGroup(api, st[0], st[1], st[2], st[3], st[4]);
        },
      },
    ],
    graphic: {
      elements: [
        T(9, 25, "Grotta Grande", "#333", 34),
        T(10, 135, "Trench F", "#111", 27),
        T(10, 272, "Trench A", "#111", 27),
        { type: "polyline", silent: true, shape: { points: [[148, 61], [140, 61], [140, 208], [148, 208]] }, style: { stroke: "#333", lineWidth: 2, fill: null } },
        { type: "polyline", silent: true, shape: { points: [[148, 262], [140, 262], [140, 283], [148, 283]] }, style: { stroke: "#333", lineWidth: 2, fill: null } },
        T(157, 62, "Layer 1", "#ffc000", 28, { i: true }),
        T(157, 98, "Layer 7-2", "#c9923a", 28, { i: true }),
        T(157, 134, "Layer 8", "#c02000", 28, { i: true }),
        T(157, 167, "Layer 14-9", "#ff6a10", 28, { i: true }),
        T(157, 201, "Layer 15", "#1aa0e8", 28, { i: true }),
        T(157, 238, "Unconformity", "#a39c72", 28, { i: true }),
        T(157, 272, "Flowstone Unit C", "#168c16", 28, { i: true }),
        T(435, 63, "Tephra", "#ffc000", 28, { i: true }),
        T(485, 97, "Silty-sand deposits", "#c9923a", 28, { i: true }),
        T(533, 135, "Neanderthal-hyena occupation", "#c02000", 28, { i: true }),
        T(563, 165, "Breccia", "#ff6a00", 28, { i: true }),
        T(792, 196, "Beach deposits", "#1aa8f0", 28, { i: true }),
        T(1157, 380, "End LIG highstand", "#8b0a6e", 28, { i: true, a: "right" }),
        T(1155, 412, "LIG highstand", "#1aa8f0", 28, { i: true, a: "right" }),
        // legend
        { type: "line", silent: true, shape: { x1: 19, y1: 335, x2: 19, y2: 376 }, style: { stroke: "#e80000", lineWidth: 2.5 } },
        T(37, 357, "Maddaloni/X-6 tephra", "#e80000", 25),
        { type: "line", silent: true, shape: { x1: 19, y1: 409, x2: 46, y2: 409 }, style: { stroke: "#e020c0", lineWidth: 2.5 } },
        { type: "line", silent: true, shape: { x1: 19, y1: 402, x2: 19, y2: 416 }, style: { stroke: "#e020c0", lineWidth: 2.5 } },
        { type: "line", silent: true, shape: { x1: 46, y1: 402, x2: 46, y2: 416 }, style: { stroke: "#e020c0", lineWidth: 2.5 } },
        { type: "circle", silent: true, shape: { cx: 33, cy: 409, r: 6 }, style: { fill: "#fff", stroke: "#e020c0", lineWidth: 2.5 } },
        T(56, 410, "{s|40}{t|Ar/}{s|39}{t|Ar age}", "#e020c0", 25, {
          rich: {
            s: { fontSize: 13, fontWeight: "bold", fontFamily: FONT, fill: "#e020c0", verticalAlign: "top" },
            t: { fontSize: 25, fontWeight: "bold", fontFamily: FONT, fill: "#e020c0" },
          },
        }),
        { type: "line", silent: true, shape: { x1: 19, y1: 446, x2: 46, y2: 446 }, style: { stroke: "#1020b0", lineWidth: 2.5 } },
        { type: "line", silent: true, shape: { x1: 19, y1: 439, x2: 19, y2: 453 }, style: { stroke: "#1020b0", lineWidth: 2.5 } },
        { type: "line", silent: true, shape: { x1: 46, y1: 439, x2: 46, y2: 453 }, style: { stroke: "#1020b0", lineWidth: 2.5 } },
        { type: "circle", silent: true, shape: { cx: 33, cy: 446, r: 6 }, style: { fill: "#fff", stroke: "#1020b0", lineWidth: 2.5 } },
        T(75, 446, "Mallorca LIG U/Th age", "#1020b0", 25),
        // record titles
        T(19, 480, "Monticchio", "#333", 28, { i: true }),
        T(19, 1083, "Sulmona", "#333", 28, { i: true }),
        T(1099, 701, "Tenaghi", "#111", 28, { i: true, a: "center" }),
        T(1099, 732, "Philippon", "#111", 28, { i: true, a: "center" }),
        T(1087, 1293, "NorthGRIP", "#111", 28, { i: true, a: "center" }),
        T(1080, 1327, "(GICC05)", "#111", 28, { i: true, a: "center" }),
        T(177, 1405, "GI", "#d29a3e", 24, { a: "center" }),
        T(181, 1443, "GS", "#16a8ec", 24, { a: "center" }),
        // axis names
        T(75, 650, "Arboreal  pollen", "#333", 28, { a: "center", rot: Math.PI / 2 }),
        T(106, 650, "(%)", "#333", 28, { a: "center", rot: Math.PI / 2 }),
        T(1092, 937, "{r|Arboreal-}{g|Temperate tree}", "#222", 27, {
          a: "center",
          rot: Math.PI / 2,
          w: "normal",
          rich: {
            r: { fontSize: 27, fontFamily: FONT, fill: "#b00000" },
            g: { fontSize: 27, fontFamily: FONT, fill: "#149414" },
          },
        }),
        T(1127, 962, "pollen (%)", "#111", 27, { a: "center", rot: Math.PI / 2, w: "normal" }),
        T(124, 1252, "{d|δ}{s|18}{b|O (‰ VPDB)}", "#222", 28, {
          a: "center",
          rot: Math.PI / 2,
          rich: {
            d: { fontSize: 28, fontFamily: FONT, fill: "#222" },
            s: { fontSize: 15, fontFamily: FONT, fontWeight: "bold", fill: "#222", verticalAlign: "top" },
            b: { fontSize: 28, fontFamily: FONT, fontWeight: "bold", fill: "#222" },
          },
        }),
        T(1112, 1460, "{d|δ}{s|18}{b|O (‰)}", "#222", 26, {
          a: "center",
          rot: Math.PI / 2,
          rich: {
            d: { fontSize: 26, fontFamily: FONT, fill: "#222" },
            s: { fontSize: 14, fontFamily: FONT, fontWeight: "bold", fill: "#222", verticalAlign: "top" },
            b: { fontSize: 26, fontFamily: FONT, fontWeight: "bold", fill: "#222" },
          },
        }),
      ],
    },
  };
}

export default function App() {
  const ref = useRef<HTMLDivElement>(null);
  useEffect(() => {
    document.body.style.margin = "0";
    const chart = echarts.init(ref.current as HTMLDivElement, undefined, { renderer: "svg" });
    chart.setOption(buildOption());
    return () => {
      chart.dispose();
    };
  }, []);
  return <div ref={ref} style={{ width: 1170, height: 1665, background: "#fff" }} />;
}
